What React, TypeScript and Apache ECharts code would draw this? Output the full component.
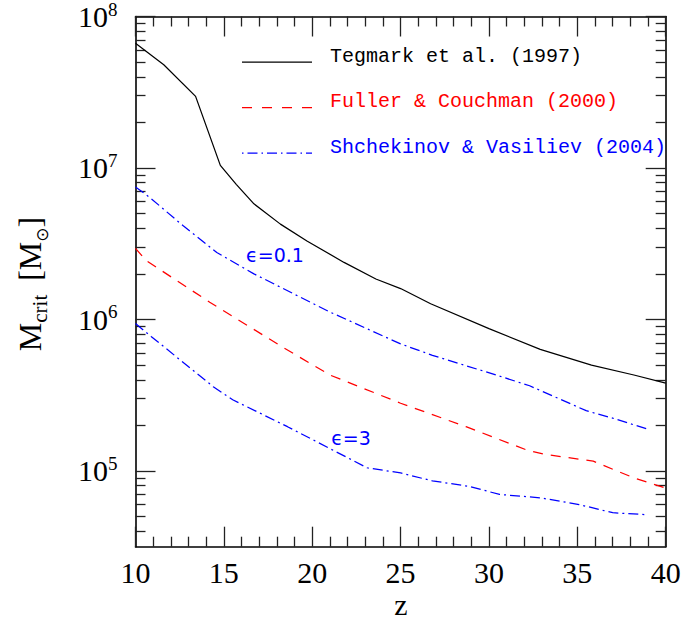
import React, { useEffect, useRef } from "react";
import * as echarts from "echarts";

// Redshift samples and critical halo masses (solar masses)
const zTegmark = [10, 11.6, 13.4, 14.8, 15.7, 16.7, 18.2, 19.7, 21.8, 23.6, 25.0, 26.7, 30.0, 32.9, 35.8, 38.2, 40];
const mTegmark = [6.65e7, 4.8e7, 2.97e7, 1.04e7, 7.8e6, 5.8e6, 4.26e6, 3.3e6, 2.38e6, 1.85e6, 1.6e6, 1.27e6, 8.7e5, 6.35e5, 5.0e5, 4.3e5, 3.8e5];

const zFuller = [10, 10.6, 14.2, 18.2, 21.0, 25.0, 28.7, 32.1, 33.1, 35.9, 38.2, 40];
const mFuller = [2.95e6, 2.45e6, 1.3e6, 6.7e5, 4.3e5, 2.8e5, 1.96e5, 1.38e5, 1.29e5, 1.16e5, 9.0e4, 7.7e4];

const zShchekLow = [10, 10.8, 12.7, 14.6, 16.7, 21.0, 25.0, 26.8, 30.4, 32.3, 35.5, 37.0, 38.9];
const mShchekLow = [7.5e6, 6.4e6, 4.15e6, 2.77e6, 2.0e6, 1.12e6, 6.9e5, 5.8e5, 4.3e5, 3.65e5, 2.5e5, 2.23e5, 1.9e5];

const zShchekHigh = [10, 10.9, 14.4, 15.5, 18.6, 23.1, 25.0, 26.8, 28.9, 30.6, 32.9, 35.1, 37.0, 38.9];
const mShchekHigh = [9.4e5, 7.7e5, 3.6e5, 2.95e5, 1.96e5, 1.05e5, 9.7e4, 8.6e4, 7.9e4, 7.0e4, 6.65e4, 6.0e4, 5.3e4, 5.15e4];

const seriesNames = ["Tegmark et al. (1997)", "Fuller & Couchman (2000)", "Shchekinov & Vasiliev (2004)"];
const seriesColors = ["#000000", "#ff0000", "#0000ff"];

const xTicks = [10, 15, 20, 25, 30, 35, 40];
const yMajor = [1e5, 1e6, 1e7, 1e8];
const yMinor = [
  4e4, 5e4, 6e4, 7e4, 8e4, 9e4,
  2e5, 3e5, 4e5, 5e5, 6e5, 7e5, 8e5, 9e5,
  2e6, 3e6, 4e6, 5e6, 6e6, 7e6, 8e6, 9e6,
  2e7, 3e7, 4e7, 5e7, 6e7, 7e7, 8e7, 9e7,
];
const yMin = Math.pow(10, 4.5);
const yMax = 1e8;

const zip = (xs: number[], ys: number[]) => xs.map((x, i) => [x, ys[i]]);

const SERIF = "'Liberation Serif', 'DejaVu Serif', serif";
const MONO = "'Liberation Mono', monospace";
const SANS = "'DejaVu Sans', sans-serif";

const DASH: number[] = [10, 8];
const DASH_DOT: number[] = [10, 4, 2, 4];

export default function App() {
  const ref = useRef<HTMLDivElement>(null);

  useEffect(() => {
    if (!ref.current) return;
    const chart = echarts.init(ref.current, undefined, { renderer: "svg" });

    const frame = { color: "#000", width: 1.6 };
    const tickStyle = { color: "#222", width: 1.3 };

    const xAxisBase = (position: "bottom" | "top", labels: boolean) => ({
      type: "value" as const,
      position,
      min: 10,
      max: 40,
      interval: 5,
      axisLine: { show: true, onZero: false, lineStyle: frame },
      axisTick: { show: true, inside: true, length: 20, lineStyle: tickStyle },
      minorTick: { show: true, splitNumber: 5, length: 10, lineStyle: tickStyle },
      splitLine: { show: false },
      axisLabel: {
        show: labels,
        margin: 11,
        fontFamily: SERIF,
        fontSize: 30,
        color: "#000",
        customValues: xTicks,
        formatter: (v: number) => String(v),
      },
    });

    const yAxisBase = (position: "left" | "right", major: boolean, labels: boolean) => ({
      type: "log" as const,
      logBase: 10,
      position,
      min: yMin,
      max: yMax,
      axisLine: { show: major, onZero: false, lineStyle: frame },
      axisTick: {
        show: true,
        inside: true,
        length: major ? 20 : 10,
        lineStyle: tickStyle,
        customValues: major ? yMajor : yMinor,
      },
      minorTick: { show: false },
      splitLine: { show: false },
      axisLabel: {
        show: labels,
        margin: 18,
        customValues: yMajor,
        formatter: (v: number) => `{b|10}{s|${Math.round(Math.log10(v))}}`,
        rich: {
          b: { fontFamily: SERIF, fontSize: 30, color: "#000", lineHeight: 34 },
          s: { fontFamily: SERIF, fontSize: 19, color: "#000", verticalAlign: "top", lineHeight: 19 },
        },
      },
    });

    const lineSeries = (name: string, data: number[][], color: string, type: any) => ({
      name,
      type: "line" as const,
      data,
      xAxisIndex: 0,
      yAxisIndex: 0,
      symbol: "none",
      smooth: false,
      lineStyle: { color, width: 1.25, type },
      silent: true,
    });

    // Key: sample line segment plus coloured label, one row per source
    const keyDash = [null, [10, 10], [1.5, 4, 10, 4]];
    const keyRows = [0, 1, 2].map((i) => ({
      type: "group",
      x: 242,
      y: 62 + i * 45.5,
      silent: true,
      children: [
        {
          type: "line",
          shape: { x1: 0, y1: 0, x2: 70, y2: 0 },
          style: { stroke: seriesColors[i], lineWidth: 1.25, lineDash: keyDash[i] },
        },
        {
          type: "text",
          x: 88,
          y: -6,
          style: {
            text: seriesNames[i],
            fill: seriesColors[i],
            font: `20px ${MONO}`,
            align: "left",
            verticalAlign: "middle",
          },
        },
      ],
    }));

    chart.setOption({
      animation: false,
      backgroundColor: "#fff",
      grid: { left: 135.5, right: 21.3, top: 16.5, bottom: 74.3, outerBoundsMode: "none", containLabel: false },
      xAxis: [xAxisBase("bottom", true), xAxisBase("top", false)],
      yAxis: [
        yAxisBase("left", true, true),
        yAxisBase("left", false, false),
        yAxisBase("right", true, false),
        yAxisBase("right", false, false),
      ],
      series: [
        lineSeries(seriesNames[0], zip(zTegmark, mTegmark), seriesColors[0], "solid"),
        lineSeries(seriesNames[1], zip(zFuller, mFuller), seriesColors[1], DASH),
        lineSeries(seriesNames[2], zip(zShchekLow, mShchekLow), seriesColors[2], DASH_DOT),
        lineSeries(seriesNames[2] + " ε=3", zip(zShchekHigh, mShchekHigh), seriesColors[2], DASH_DOT),
      ],
      graphic: [
        ...keyRows,
        // x-axis title
        {
          type: "text",
          x: 401,
          y: 604,
          silent: true,
          style: { text: "z", fill: "#000", font: `30px ${SERIF}`, align: "center", verticalAlign: "middle" },
        },
        // y-axis title, reading upwards
        {
          type: "text",
          x: 30,
          y: 284,
          rotation: Math.PI / 2,
          silent: true,
          style: {
            text: "{m|M}{sub|crit}{gap| }{m|[M}{sun|⊙}{m|]}",
            align: "center",
            verticalAlign: "middle",
            rich: {
              m: { fontFamily: SERIF, fontSize: 32, color: "#000", lineHeight: 40 },
              sub: { fontFamily: SERIF, fontSize: 21, color: "#000", verticalAlign: "bottom", lineHeight: 21 },
              gap: { fontFamily: SERIF, fontSize: 32, width: 14 },
              sun: { fontFamily: SANS, fontSize: 17, color: "#000", verticalAlign: "bottom", lineHeight: 19 },
            },
          },
        },
        {
          type: "text",
          x: 275,
          y: 255,
          silent: true,
          style: { text: "ϵ=0.1", fill: "#0000ff", font: `19px ${SANS}`, align: "center", verticalAlign: "middle" },
        },
        {
          type: "text",
          x: 351,
          y: 438,
          silent: true,
          style: { text: "ϵ=3", fill: "#0000ff", font: `19px ${SANS}`, align: "center", verticalAlign: "middle" },
        },
      ],
    });

    return () => chart.dispose();
  }, []);

  return <div ref={ref} style={{ position: "fixed", left: 0, top: 0, width: 687, height: 621 }} />;
}
